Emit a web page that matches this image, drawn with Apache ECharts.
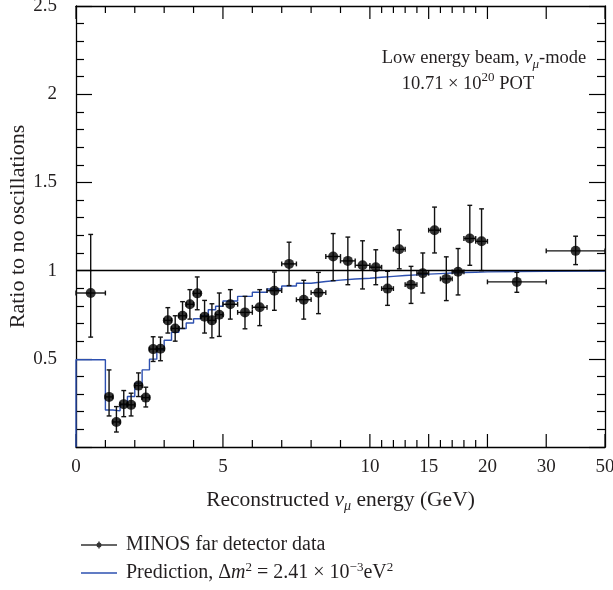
<!DOCTYPE html>
<html><head><meta charset="utf-8">
<script src="https://cdn.jsdelivr.net/npm/echarts@6/dist/echarts.min.js"></script>
<style>html,body{margin:0;padding:0;background:#fff}#c{width:613px;height:590px}</style>
</head><body><div id="c"></div>
<script>
// ---- data (energies in GeV) ----
const dataBinLo = [0,1,1.25,1.5,1.75,2,2.25,2.5,2.75,3,3.25,3.5,3.75,4,4.25,4.5,4.75,5,5.5,6,6.5,7,7.5,8,8.5,9,9.5,10,11,12,13,14,15,16,17,18,19,20,30];
const dataBinHi = [1,1.25,1.5,1.75,2,2.25,2.5,2.75,3,3.25,3.5,3.75,4,4.25,4.5,4.75,5,5.5,6,6.5,7,7.5,8,8.5,9,9.5,10,11,12,13,14,15,16,17,18,19,20,30,50];
const dataRatio = [0.873,0.284,0.142,0.243,0.239,0.348,0.280,0.555,0.557,0.718,0.672,0.744,0.809,0.871,0.739,0.718,0.750,0.809,0.763,0.792,0.886,1.038,0.835,0.875,1.080,1.055,1.030,1.019,0.898,1.121,0.920,0.985,1.229,0.953,0.993,1.182,1.166,0.936,1.112];
const dataErrHigh = [1.205,0.437,0.229,0.320,0.305,0.420,0.339,0.625,0.623,0.790,0.744,0.824,0.892,0.964,0.831,0.812,0.873,0.892,0.854,0.892,0.992,1.161,0.945,0.990,1.210,1.190,1.169,1.118,0.996,1.231,1.024,1.100,1.360,1.078,1.125,1.370,1.350,0.990,1.195];
const dataErrLow = [0.623,0.176,0.085,0.172,0.176,0.286,0.227,0.485,0.489,0.646,0.600,0.672,0.725,0.778,0.646,0.619,0.627,0.725,0.670,0.688,0.775,0.915,0.725,0.756,0.943,0.920,0.896,0.920,0.803,1.010,0.814,0.873,1.100,0.830,0.862,1.030,1.000,0.877,1.034];

const predEdges = [0,1,1.25,1.5,1.75,2,2.25,2.5,2.75,3,3.25,3.5,3.75,4,4.25,4.5,4.75,5,5.5,6,6.5,7,7.5,8,8.5,9,9.5,10,11,12,13,14,15,16,17,18,19,20,30,50];
const predRatio = [0.495,0.210,0.205,0.239,0.286,0.362,0.437,0.498,0.551,0.605,0.650,0.672,0.703,0.727,0.745,0.778,0.798,0.828,0.854,0.877,0.896,0.913,0.928,0.938,0.946,0.952,0.957,0.962,0.967,0.972,0.976,0.980,0.983,0.986,0.989,0.991,0.993,0.996,0.998];

const xMajorTicks = [0,5,10,15,20,30,50];
const xMajorLabels = ['0','5','10','15','20','30','50'];
const xMinorTicks = [1,2,3,4,6,7,8,9,11,12,13,14,16,17,18,19];

// piecewise energy scale used by the original figure
function tx(e){
  if (e <= 10) return e;
  if (e <= 20) return 10 + (e-10)*0.4;
  if (e <= 30) return 14 + (e-20)*0.2;
  return 16 + (e-30)*0.1;
}

const FONT = 'Liberation Serif';
const TXT = '#231f20';

const errData = dataRatio.map((v,i)=>{
  const lo = dataBinLo[i], hi = dataBinHi[i];
  return [tx((lo+hi)/2), v, tx(lo), tx(hi), dataErrLow[i], dataErrHigh[i]];
});
const ptData = errData.map(d=>[d[0], d[1]]);
const stepData = [[tx(0),0]];
predRatio.forEach((v,i)=>{ stepData.push([tx(predEdges[i]),v]); stepData.push([tx(predEdges[i+1]),v]); });
const tickData = xMajorTicks.map(e=>[tx(e),1]).concat(xMinorTicks.map(e=>[tx(e),0]));

const chart = echarts.init(document.getElementById('c'), null, {renderer:'canvas'});
const axisLineStyle = {color:'#000', width:1.3};
const annRich = {
  a:{fontFamily:FONT,fontSize:18.5,fontWeight:'normal',color:TXT,lineHeight:26},
  i:{fontFamily:FONT,fontSize:18.5,fontWeight:'normal',fontStyle:'italic',color:TXT,lineHeight:26},
  sub:{fontFamily:FONT,fontSize:13,fontWeight:'normal',fontStyle:'italic',color:TXT,lineHeight:26,verticalAlign:'bottom'},
  sup:{fontFamily:FONT,fontSize:13,fontWeight:'normal',color:TXT,lineHeight:26,verticalAlign:'top'}
};
chart.setOption({
  animation:false,
  backgroundColor:'#fff',
  textStyle:{fontFamily:FONT, color:TXT},
  title:[{
    left:484, top:45, textAlign:'center', padding:0,
    text:'{a|Low energy beam, }{i|ν}{sub|μ}{a|-mode}',
    textStyle:{fontWeight:'normal', rich:annRich}
  },{
    left:468, top:71, textAlign:'center', padding:0,
    text:'{a|10.71 × 10}{sup|20}{a| POT}',
    textStyle:{fontWeight:'normal', rich:annRich}
  }],
  grid:{left:76, right:8, top:6, bottom:143, containLabel:false, outerBoundsMode:'none'},
  legend:{
    orient:'vertical', left:76, top:530, itemWidth:36, itemHeight:10, itemGap:6,
    selectedMode:false,
    data:[
      {name:'data', icon:'path://M0,4.3H36V5.7H0Z M17.3,1.5H18.7V8.5H17.3Z M15.5,5A2.5,2.5 0 1,1 20.5,5A2.5,2.5 0 1,1 15.5,5Z', itemStyle:{color:'#000'}},
      {name:'pred', icon:'path://M0,4.3H36V5.7H0Z', itemStyle:{color:'#2d50b0'}}
    ],
    formatter:function(n){
      if(n==='data') return '{a|MINOS far detector data}';
      return '{a|Prediction, Δ}{i|m}{sup|2}{a| = 2.41 × 10}{sup|−3}{a|eV}{sup|2}';
    },
    textStyle:{padding:[0,0,0,4], rich:{
      a:{fontFamily:FONT,fontSize:20,color:TXT,lineHeight:24},
      i:{fontFamily:FONT,fontSize:20,fontStyle:'italic',color:TXT,lineHeight:24},
      sup:{fontFamily:FONT,fontSize:13,color:TXT,lineHeight:24,verticalAlign:'top'}
    }}
  },
  xAxis:[{
    type:'value', min:0, max:18, position:'bottom',
    axisLine:{show:true, onZero:false, lineStyle:axisLineStyle},
    axisTick:{show:false}, splitLine:{show:false},
    axisLabel:{customValues:xMajorTicks.map(tx), fontFamily:FONT, fontSize:19, color:TXT, margin:11,
      formatter:function(v){ const i = xMajorTicks.findIndex(e=>Math.abs(tx(e)-v)<1e-6); return i>=0?xMajorLabels[i]:''; }},
    name:'{a|Reconstructed }{i|ν}{sub|μ}{a| energy (GeV)}',
    nameLocation:'middle', nameGap:40, nameMoveOverlap:false,
    nameTextStyle:{rich:{
      a:{fontFamily:FONT,fontSize:21.5,color:TXT,lineHeight:26},
      i:{fontFamily:FONT,fontSize:21.5,fontStyle:'italic',color:TXT,lineHeight:26},
      sub:{fontFamily:FONT,fontSize:14,fontStyle:'italic',color:TXT,lineHeight:26,verticalAlign:'bottom'}
    }}
  },{
    type:'value', min:0, max:18, position:'top',
    axisLine:{show:true, onZero:false, lineStyle:axisLineStyle},
    axisTick:{show:false}, axisLabel:{show:false}, splitLine:{show:false}
  }],
  yAxis:[{
    type:'value', min:0, max:2.5, interval:0.5, position:'left',
    axisLine:{show:true, onZero:false, lineStyle:axisLineStyle},
    axisTick:{show:true, inside:true, length:16, lineStyle:{color:'#000', width:1.2}},
    minorTick:{show:true, splitNumber:5, length:8, lineStyle:{color:'#000', width:1.2}},
    splitLine:{show:false},
    axisLabel:{fontFamily:FONT, fontSize:19, color:TXT, margin:19,
      formatter:function(v){ return v===0?'':String(v); }},
    name:'Ratio to no oscillations', nameLocation:'middle', nameGap:47, nameRotate:90, nameMoveOverlap:false,
    nameTextStyle:{fontFamily:FONT, fontSize:22, color:TXT}
  },{
    type:'value', min:0, max:2.5, interval:0.5, position:'right',
    axisLine:{show:true, onZero:false, lineStyle:axisLineStyle},
    axisTick:{show:true, inside:true, length:16, lineStyle:{color:'#000', width:1.2}},
    minorTick:{show:true, splitNumber:5, length:8, lineStyle:{color:'#000', width:1.2}},
    splitLine:{show:false}, axisLabel:{show:false}
  }],
  series:[
    {
      name:'ticks', type:'custom', silent:true, z:1, data:tickData,
      renderItem:function(params, api){
        const b = api.coord([api.value(0), 0]);
        const t = api.coord([api.value(0), 2.5]);
        const L = api.value(1) ? 13 : 7;
        const st = {stroke:'#000', lineWidth:1.2};
        return {type:'group', children:[
          {type:'line', shape:{x1:b[0],y1:b[1],x2:b[0],y2:b[1]-L}, style:st},
          {type:'line', shape:{x1:t[0],y1:t[1],x2:t[0],y2:t[1]+L}, style:st}
        ]};
      }
    },
    {
      name:'pred', type:'line', data:stepData, showSymbol:false, symbol:'none', z:3,
      lineStyle:{color:'#2d50b0', width:1.4}, itemStyle:{color:'#2d50b0'},
      markLine:{silent:true, symbol:'none', label:{show:false},
        lineStyle:{color:'#000', width:1.3, type:'solid'}, data:[{yAxis:1}]}
    },
    {
      name:'errbars', type:'custom', silent:true, z:4, data:errData,
      renderItem:function(params, api){
        const c = api.coord([api.value(0), api.value(1)]);
        const l = api.coord([api.value(2), api.value(1)]);
        const r = api.coord([api.value(3), api.value(1)]);
        const lo = api.coord([api.value(0), api.value(4)]);
        const hi = api.coord([api.value(0), api.value(5)]);
        const cap = 2.4;
        const st = {stroke:'#111', lineWidth:1.4};
        return {type:'group', children:[
          {type:'line', shape:{x1:l[0],y1:c[1],x2:r[0],y2:c[1]}, style:st},
          {type:'line', shape:{x1:l[0],y1:c[1]-cap,x2:l[0],y2:c[1]+cap}, style:st},
          {type:'line', shape:{x1:r[0],y1:c[1]-cap,x2:r[0],y2:c[1]+cap}, style:st},
          {type:'line', shape:{x1:c[0],y1:lo[1],x2:c[0],y2:hi[1]}, style:st},
          {type:'line', shape:{x1:c[0]-cap,y1:lo[1],x2:c[0]+cap,y2:lo[1]}, style:st},
          {type:'line', shape:{x1:c[0]-cap,y1:hi[1],x2:c[0]+cap,y2:hi[1]}, style:st}
        ]};
      }
    },
    {
      name:'data', type:'scatter', data:ptData, symbol:'circle', symbolSize:10, z:5,
      itemStyle:{color:'#000'}
    }
  ]
});
</script></body></html>
